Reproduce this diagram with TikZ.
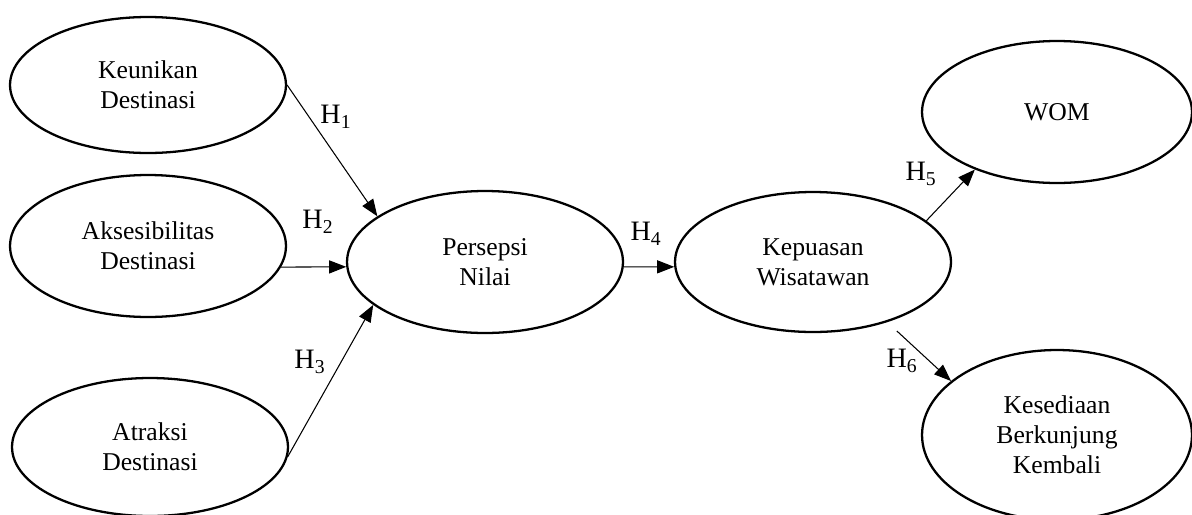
\documentclass[tikz,border=0pt]{standalone}
\usepackage{fontspec}
\setmainfont{Liberation Serif}
\usetikzlibrary{shapes.geometric, arrows.meta, positioning}

\begin{document}
\begin{tikzpicture}[x=0.02cm, y=-0.02cm]
    % Styles
    \tikzstyle{construct} = [ellipse, draw, line width=1.3pt, inner sep=0pt, align=center,
                        minimum width=5.52cm, minimum height=2.84cm, font=\fontsize{14.6}{17}\selectfont]
    \tikzstyle{link} = [-{Triangle[length=0.34cm, width=0.26cm]}, line width=0.6pt]
    \tikzstyle{hyp} = [inner sep=0pt, font=\fontsize{16}{19}\selectfont]

    \useasboundingbox (0,0) rectangle (1192,514);

    % Nodes
    \node at (148,85) [construct, minimum height=2.72cm] (keu) {Keunikan\\Destinasi};
    \node at (148,246) [construct] (aks) {Aksesibilitas\\Destinasi};
    \node at (150,447) [construct, minimum height=2.76cm] (atr) {Atraksi\\Destinasi};
    \node at (485,262) [construct] (per) {Persepsi\\Nilai};
    \node at (813,262) [construct, minimum height=2.8cm] (kep) {Kepuasan\\Wisatawan};
    \node at (1057,112) [construct, minimum width=5.4cm] (wom) {WOM};
    \node at (1057,435) [construct, minimum width=5.4cm, minimum height=3.4cm] (kes) {Kesediaan\\Berkunjung\\Kembali};

    % Connections
    \draw[link] (keu.east) -- (per.157);
    \draw[link] (aks.-9) -- (per.182);
    \draw[link] (atr.-4) -- (per.201);
    \draw[link] (per.-2) -- (kep.182);
    \draw[link] (kep.20) -- (wom.215);
    \draw[link, shorten <=0.26cm] (kep.-39) -- (kes.153);

    % Labels
    \node at (336,117) [hyp] (h1) {H\textsubscript{1}};
    \node at (318,222) [hyp] (h2) {H\textsubscript{2}};
    \node at (310,362) [hyp] (h3) {H\textsubscript{3}};
    \node at (646,234) [hyp] (h4) {H\textsubscript{4}};
    \node at (921,174) [hyp] (h5) {H\textsubscript{5}};
    \node at (902,361) [hyp] (h6) {H\textsubscript{6}};
\end{tikzpicture}
\end{document}
